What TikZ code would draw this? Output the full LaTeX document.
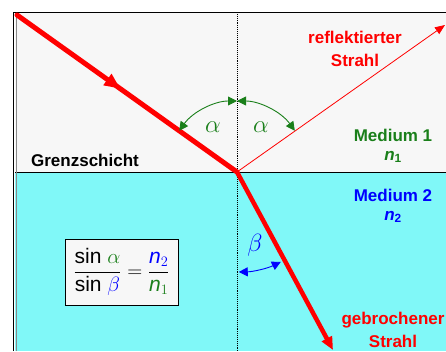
\documentclass[tikz,border=0pt]{standalone}
\usepackage{fontspec}
\usepackage{amsmath}
\setmainfont{Liberation Sans}
\usetikzlibrary{
  arrows.meta,
  decorations.markings,
}
\definecolor{rayRed}{HTML}{FF0000}
\definecolor{medA}{HTML}{1A7F1A}
\definecolor{medB}{HTML}{0000FF}
\definecolor{fillTop}{HTML}{F7F7F7}
\definecolor{fillWater}{HTML}{80F8F8}
\definecolor{frameGray}{HTML}{888888}
\tikzset{
  lbl/.style={font=\fontsize{17}{23}\selectfont\bfseries, align=center, inner sep=0pt},
  ray/.style={rayRed, line width=5pt, line cap=round},
  tip/.style={-{Triangle[length=13pt, width=11pt]}},
  anglearc/.style={line width=0.9pt, {Triangle[length=9pt, width=9pt]}-{Triangle[length=9pt, width=9pt]}},
  greek/.style={font=\fontsize{26}{26}\selectfont, inner sep=0pt},
  formbox/.style={draw=black, fill=fillTop, line width=0.8pt, minimum width=113pt,
    minimum height=66pt, inner sep=1pt, font=\fontsize{21}{24}\selectfont},
}

\begin{document}
\begin{tikzpicture}[x=1pt, y=1pt]

  \useasboundingbox (0,0) rectangle (446,351);
  \clip (0,0) rectangle (446,351);

  % Media
  \fill[fillTop] (15,179) rectangle (446,338);
  \fill[fillWater] (15,0) rectangle (446,179);
  \draw[line width=0.8pt] (15,179) -- (446,179);
  \draw[black, line width=1.5pt] (13.5,0) -- (13.5,338.5) -- (446,338.5);
  \draw[frameGray, line width=1pt] (16,0) -- (16,337);

  % Points
  \coordinate (src) at (17,336);
  \coordinate (hit) at (237,179);
  \coordinate (refl) at (445,326);
  \coordinate (refr) at (333,1);
  \coordinate (ntop) at (237,337);
  \coordinate (nbot) at (237,0);

  % Normal
  \draw[densely dotted, line width=0.9pt] (ntop) -- (nbot);

  % Rays
  \draw[ray, postaction={decorate}, decoration={markings,
    mark=at position 0.47 with {\arrow{Triangle[length=16pt, width=13pt]}}}] (src) -- (hit);
  \draw[rayRed, line width=0.8pt, -{Triangle[length=10pt, width=8pt]}] (hit) -- (refl);
  \draw[ray, line width=4.5pt, tip] (hit) -- (refr);

  % Angles
  \draw[medA, anglearc] (hit) ++(90:71) arc[start angle=90, end angle=144.5, radius=71];
  \draw[medA, anglearc] (hit) ++(90:71) arc[start angle=90, end angle=35.5, radius=71];
  \draw[medB, anglearc] (hit) ++(271:100) arc[start angle=271, end angle=296, radius=100];

  \node[greek, text=medA] (a1) at (213,224) {$\alpha$};
  \node[greek, text=medA] (a2) at (261,224) {$\alpha$};
  \node[greek, text=medB] (b1) at (255,106) {$\beta$};

  % Labels
  \node[lbl, text=rayRed] (reflab) at (355,302) {reflektierter\\Strahl};
  \node[lbl] (grenz) at (85,191) {Grenzschicht};
  \node[lbl, text=medA] (med1) at (393,216) {Medium 1};
  \node[lbl, text=medA] (n1) at (393,194) {\textit{n}\textsubscript{1}};
  \node[lbl, text=medB] (med2) at (393,156) {Medium 2};
  \node[lbl, text=medB] (n2) at (393,134) {\textit{n}\textsubscript{2}};
  \node[lbl, text=rayRed] (brlab) at (393,21) {gebrochener\\Strahl};

  % Law of refraction
  \node[formbox] (law) at (121.5,79)
    {$\dfrac{\text{sin }\textcolor{medA}{\alpha}}{\text{sin }\textcolor{medB}{\beta}}
     = \dfrac{\textcolor{medB}{\text{\itshape n}_2}}{\textcolor{medA}{\text{\itshape n}_1}}$};

\end{tikzpicture}
\end{document}
